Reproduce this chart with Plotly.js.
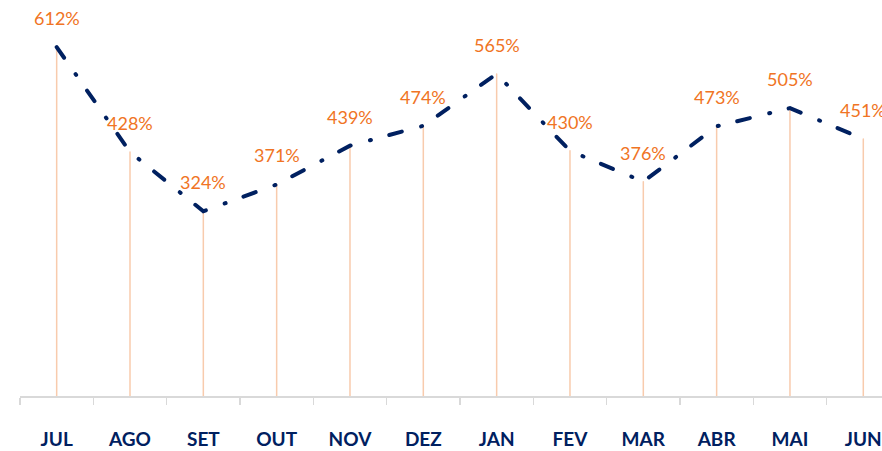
<!DOCTYPE html>
<html><head><meta charset="utf-8">
<script src="https://cdn.plot.ly/plotly-3.0.1.min.js"></script>
<style>html,body{margin:0;padding:0;background:#fff}
.js-line{stroke-linecap:round}</style>
</head><body>
<div id="chart" style="width:882px;height:451px"></div>
<script>
const months = ["JUL","AGO","SET","OUT","NOV","DEZ","JAN","FEV","MAR","ABR","MAI","JUN"];
const values = [612, 428, 324, 371, 439, 474, 565, 430, 376, 473, 505, 451];
const labels = values.map(v => v + "%");

const dropX = [], dropY = [];
months.forEach((m, i) => { dropX.push(m, m, null); dropY.push(0, values[i], null); });

const traces = [
  {x: dropX, y: dropY, type: "scatter", mode: "lines", line: {color: "#f8cbad", width: 1.5}, hoverinfo: "skip", showlegend: false},
  {x: months, y: values, type: "scatter", mode: "lines", line: {color: "#002060", width: 4, dash: "13px,20px,1px,19px"}, showlegend: false}
];

const annotations = months.map((m, i) => ({
  x: m, y: values[i], text: labels[i], showarrow: false, yshift: 29,
  font: {family: "Lato, 'Open Sans', sans-serif", size: 18, color: "#f07424"}
}));

const layout = {
  width: 882, height: 451,
  margin: {l: 20, r: 0, t: 0, b: 55},
  paper_bgcolor: "#fff", plot_bgcolor: "#fff",
  showlegend: false,
  xaxis: {type: "category", categoryorder: "array", categoryarray: months,
    range: [-0.5, 11.255], showgrid: false, zeroline: false,
    showline: true, linecolor: "#d9d9d9", linewidth: 1.5,
    ticks: "outside", tickson: "boundaries", ticklen: 7, tickcolor: "#d9d9d9", tickwidth: 1.5,
    ticklabelstandoff: 26,
    tickfont: {family: "Lato, 'Open Sans', sans-serif", size: 19, color: "#002060", weight: "bold"}},
  yaxis: {range: [0, 694.6], visible: false, showgrid: false, zeroline: false},
  annotations: annotations
};
Plotly.newPlot("chart", traces, layout, {displayModeBar: false, staticPlot: true});
</script>
</body></html>
